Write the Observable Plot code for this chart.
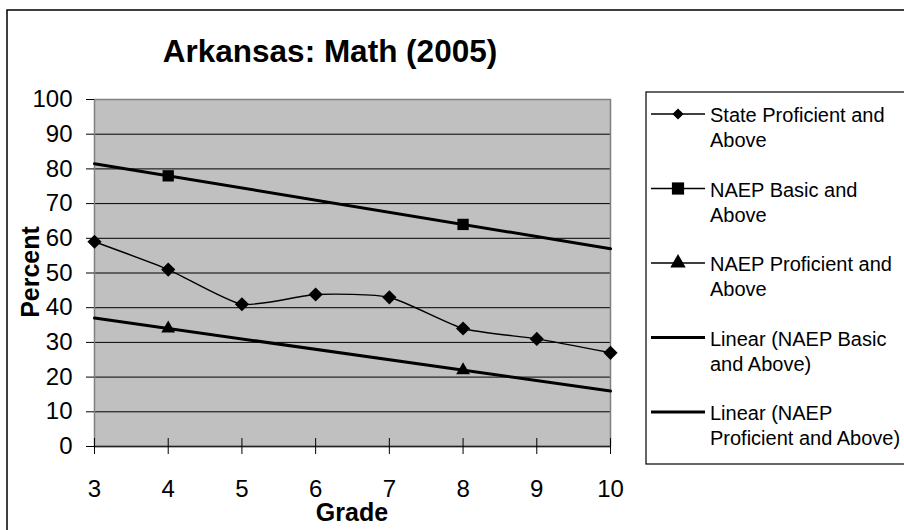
<!DOCTYPE html>
<html>
<head>
<meta charset="utf-8">
<script src="https://cdn.jsdelivr.net/npm/d3@7"></script>
<script src="https://cdn.jsdelivr.net/npm/@observablehq/plot@0.6"></script>
<style>
  html, body { margin: 0; padding: 0; background: white; }
  svg text { font-family: 'Liberation Sans', Arial, sans-serif; }
</style>
</head>
<body>
<div id="chart"></div>
<script>
// ---- data ----
const grades = [3, 4, 5, 6, 7, 8, 9, 10];
const stateProficient = [59, 51, 41, 43.8, 43, 34, 31, 27];
const naepGrades = [4, 8];
const naepBasic = [78, 64];
const naepProficient = [34, 22];
const yTicks = [0, 10, 20, 30, 40, 50, 60, 70, 80, 90, 100];
const titleText = "Arkansas: Math (2005)";
const xLabel = "Grade";
const yLabel = "Percent";
const legendLabels = [
  ["State Proficient and", "Above"],
  ["NAEP Basic and", "Above"],
  ["NAEP Proficient and", "Above"],
  ["Linear (NAEP Basic", "and Above)"],
  ["Linear (NAEP", "Proficient and Above)"]
];

// ---- derived tables ----
const stateData = grades.map((g, i) => ({grade: g, value: stateProficient[i]}));
const basicData = naepGrades.map((g, i) => ({grade: g, value: naepBasic[i]}));
const profData = naepGrades.map((g, i) => ({grade: g, value: naepProficient[i]}));

function linearTrend(xs, ys, range) {
  const mx = d3.mean(xs), my = d3.mean(ys);
  let num = 0, den = 0;
  xs.forEach((x, i) => { num += (x - mx) * (ys[i] - my); den += (x - mx) * (x - mx); });
  const slope = num / den, intercept = my - slope * mx;
  return range.map(x => ({grade: x, value: intercept + slope * x}));
}
const xExtent = d3.extent(grades);
const trendBasic = linearTrend(naepGrades, naepBasic, xExtent);
const trendProf = linearTrend(naepGrades, naepProficient, xExtent);

const font = "'Liberation Sans', Arial, sans-serif";

const chart = Plot.plot({
  width: 904,
  height: 530,
  marginLeft: 94,
  marginRight: 294,
  marginTop: 99,
  marginBottom: 84,
  style: {fontFamily: font, fontSize: "24px", color: "black", background: "white", overflow: "visible"},
  x: {domain: xExtent},
  y: {domain: [0, 100]},
  marks: [
    Plot.frame({fill: "#c0c0c0", stroke: "none"}),
    Plot.gridY(yTicks.filter(t => t > 0 && t < 100), {stroke: "black", strokeOpacity: 1, strokeWidth: 1}),
    Plot.frame({stroke: "#808080", strokeWidth: 1.5}),
    Plot.ruleY([0], {stroke: "#222", strokeWidth: 1.3}),
    Plot.axisY({ticks: yTicks, tickSize: 8, tickPadding: 14, label: null, fontSize: 24, stroke: "black"}),
    Plot.axisX({ticks: grades, tickSize: 8, tickPadding: 25, tickFormat: "d", label: null, fontSize: 24, stroke: "black"}),
    Plot.axisX({ticks: grades, tickSize: -8, tickFormat: () => "", label: null, stroke: "black"}),
    Plot.line(trendBasic, {x: "grade", y: "value", stroke: "black", strokeWidth: 3}),
    Plot.line(trendProf, {x: "grade", y: "value", stroke: "black", strokeWidth: 3}),
    Plot.line(stateData, {x: "grade", y: "value", curve: "cardinal", tension: 0.4, stroke: "black", strokeWidth: 1.4}),
    Plot.dot(stateData, {x: "grade", y: "value", symbol: "diamond2", r: 6.4, fill: "black", stroke: "none"}),
    Plot.dot(basicData, {x: "grade", y: "value", symbol: "square2", r: 7.2, fill: "black", stroke: "none"}),
    Plot.dot(profData, {x: "grade", y: "value", symbol: "triangle2", r: 6.6, fill: "black", stroke: "none"})
  ]
});

const svg = d3.select(chart);

// outer chart border
svg.append("rect")
  .attr("x", 7).attr("y", 10).attr("width", 920).attr("height", 540)
  .attr("fill", "none").attr("stroke", "black").attr("stroke-width", 1.5);

// title
svg.append("text")
  .attr("x", 330).attr("y", 62)
  .attr("text-anchor", "middle")
  .attr("font-family", font).attr("font-weight", "bold").attr("font-size", 31.5)
  .text(titleText);

// axis labels
svg.append("text")
  .attr("x", 352).attr("y", 521)
  .attr("text-anchor", "middle")
  .attr("font-family", font).attr("font-weight", "bold").attr("font-size", 25)
  .text(xLabel);
svg.append("text")
  .attr("transform", "translate(39,272) rotate(-90)")
  .attr("text-anchor", "middle")
  .attr("font-family", font).attr("font-weight", "bold").attr("font-size", 25)
  .text(yLabel);

// legend
const lg = svg.append("g");
lg.append("rect")
  .attr("x", 646).attr("y", 92).attr("width", 300).attr("height", 372)
  .attr("fill", "white").attr("stroke", "black").attr("stroke-width", 1.2);

const symbolFns = [d3.symbolDiamond2, d3.symbolSquare2, d3.symbolTriangle2, null, null];
const symbolSizes = [80, 190, 170];
legendLabels.forEach((lines, i) => {
  const cy = 114 + i * 74.5;
  const trend = i >= 3;
  lg.append("line")
    .attr("x1", 651).attr("x2", 705).attr("y1", cy).attr("y2", cy)
    .attr("stroke", "black").attr("stroke-width", trend ? 3 : 1.4);
  if (symbolFns[i]) {
    lg.append("path")
      .attr("d", d3.symbol(symbolFns[i], symbolSizes[i])())
      .attr("transform", `translate(678,${cy})`)
      .attr("fill", "black");
  }
  const t = lg.append("text")
    .attr("font-family", font).attr("font-size", 20)
    .attr("text-anchor", "start");
  lines.forEach((s, j) => {
    t.append("tspan").attr("x", 710).attr("y", cy + 8 + j * 25).text(s);
  });
});

document.getElementById("chart").appendChild(chart);
</script>
</body>
</html>
